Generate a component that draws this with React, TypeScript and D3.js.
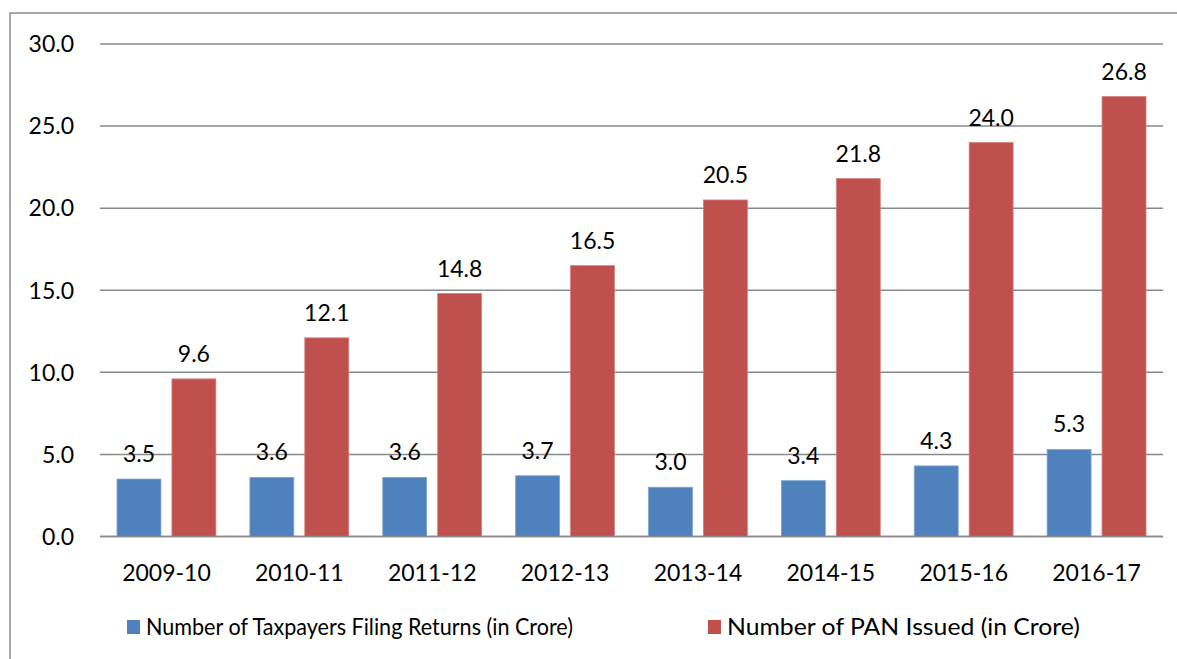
import React from "react";
import * as d3 from "d3";

const categories = ["2009-10", "2010-11", "2011-12", "2012-13", "2013-14", "2014-15", "2015-16", "2016-17"];
const taxpayers = [3.5, 3.6, 3.6, 3.7, 3.0, 3.4, 4.3, 5.3];
const panIssued = [9.6, 12.1, 14.8, 16.5, 20.5, 21.8, 24.0, 26.8];
const yTicks = [0, 5, 10, 15, 20, 25, 30];
const seriesNames = ["Number of Taxpayers Filing Returns (in Crore)", "Number of PAN Issued (in Crore)"];
const colors = ["#4F81BD", "#C0504D"];

const W = 1177;
const H = 659;
const FONT = "Lato, 'Open Sans', sans-serif";
const FS = 23;

export default function App() {
  const left = 100;
  const right = 1163;
  const y = d3.scaleLinear().domain([0, 30]).range([536.5, 44]);
  const x0 = d3.scaleBand<string>().domain(categories).range([left, right]).paddingInner(0).paddingOuter(0);
  const groupPad = 17;
  const x1 = d3
    .scaleBand<number>()
    .domain([0, 1])
    .range([groupPad, x0.bandwidth() - groupPad])
    .paddingInner(0.2)
    .paddingOuter(0);
  const series = [taxpayers, panIssued];
  const legendX = [127, 708];
  const legendLen = [427, 353];

  return (
    <svg
      width={W}
      height={H}
      style={{ position: "absolute", left: 0, top: 0, display: "block" }}
      fontFamily={FONT}
    >
      <rect x={0} y={0} width={W} height={H} fill="#fff" />
      <rect x={10} y={13} width={W + 20} height={H + 20} fill="none" stroke="#8c8c8c" strokeWidth={1.5} />
      {yTicks.map((t) => (
        <g key={t}>
          <line x1={left} x2={right} y1={y(t)} y2={y(t)} stroke="#898989" strokeWidth={1.5} />
          <text x={74} y={y(t)} dy="0.36em" textAnchor="end" fontSize={FS} fill="#000">
            {t.toFixed(1)}
          </text>
        </g>
      ))}
      {categories.map((c, i) => (
        <g key={c} transform={`translate(${x0(c)},0)`}>
          {series.map((s, si) => {
            const v = s[i];
            const bx = x1(si)!;
            const bw = x1.bandwidth();
            return (
              <g key={si}>
                <rect
                  x={bx}
                  y={y(v)}
                  width={bw}
                  height={y(0) - y(v)}
                  fill={colors[si]}
                  stroke={si === 0 ? "#7fa3d0" : "#d47f7d"}
                  strokeWidth={0.8}
                />
                <text
                  x={bx + bw / 2}
                  y={y(v) - 17}
                  textAnchor="middle"
                  fontSize={FS}
                  fill="#000"
                >
                  {v.toFixed(1)}
                </text>
              </g>
            );
          })}
          <text x={x0.bandwidth() / 2} y={573} dy="0.36em" textAnchor="middle" fontSize={FS} fill="#000">
            {c}
          </text>
        </g>
      ))}
      <line x1={left} x2={right} y1={y(0)} y2={y(0)} stroke="#898989" strokeWidth={1.5} />
      {seriesNames.map((n, i) => (
        <g key={n} transform={`translate(${legendX[i]},627)`}>
          <rect x={0} y={-7} width={13} height={14} fill={colors[i]} />
          <text
            x={19}
            y={0}
            dy="0.36em"
            fontSize={FS}
            fill="#000"
            textLength={legendLen[i]}
            lengthAdjust="spacingAndGlyphs"
          >
            {n}
          </text>
        </g>
      ))}
    </svg>
  );
}
